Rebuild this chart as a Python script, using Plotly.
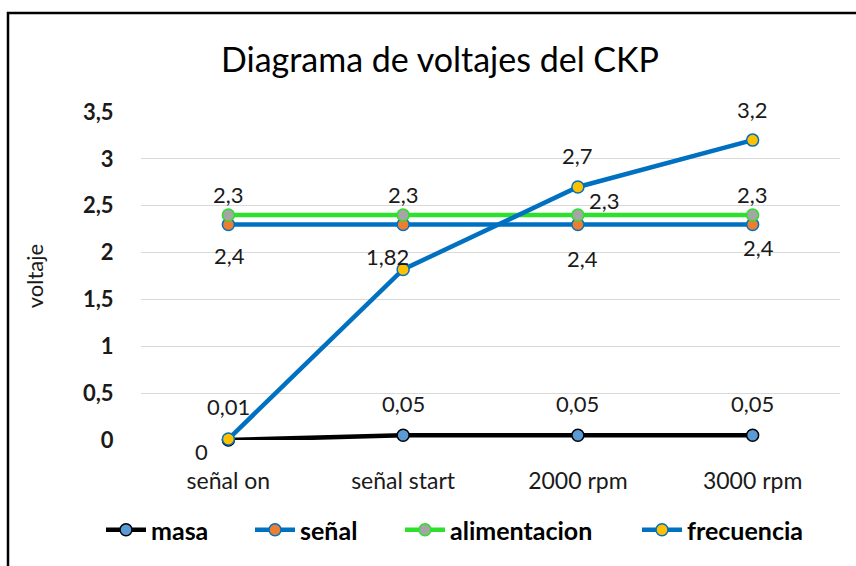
import plotly.graph_objects as go

# data
categorias = ['señal on', 'señal start', '2000 rpm', '3000 rpm']
masa = [0, 0.05, 0.05, 0.05]
senal = [2.3, 2.3, 2.3, 2.3]
alimentacion = [2.4, 2.4, 2.4, 2.4]
frecuencia = [0.01, 1.82, 2.7, 3.2]

# data labels as they appear on the chart
masa_txt = ['0', '0,05', '0,05', '0,05']
senal_txt = ['2,4', '', '2,4', '2,4']
alim_txt = ['2,3', '2,3', '2,3', '2,3']
frec_txt = ['0,01', '1,82', '2,7', '3,2']

FONT = 'Lato'
W, H = 856, 566
ML, MR, MT, MB = 141, 16, 112, 126

fig = go.Figure()

# one legend per series so each entry can sit where Excel put it
def add_serie(nombre, valores, linea, relleno, borde, leyenda):
    fig.add_trace(go.Scatter(
        x=categorias, y=valores, name=nombre, mode='lines+markers',
        line=dict(color=linea, width=4.5),
        marker=dict(size=12, color=relleno, line=dict(color=borde, width=1.5)),
        cliponaxis=False, legend=leyenda,
    ))

add_serie('masa', masa, '#000000', '#5b9bd5', '#000000', 'legend')
add_serie('señal', senal, '#0070c0', '#ed7d31', '#0070c0', 'legend2')
add_serie('alimentacion', alimentacion, '#2ce02c', '#a5a5a5', '#2ce02c', 'legend3')
add_serie('frecuencia', frecuencia, '#0070c0', '#ffc000', '#0070c0', 'legend4')

# label offsets (px) per point
def etiquetas(valores, textos, offsets):
    for cat, v, t, (dx, dy) in zip(categorias, valores, textos, offsets):
        if not t:
            continue
        fig.add_annotation(x=cat, y=v, text=t, showarrow=False,
                           xshift=dx, yshift=dy,
                           font=dict(family=FONT, size=22, color='#1a1a1a'))

etiquetas(masa, masa_txt, [(-27, -11), (0, 32), (0, 32), (0, 32)])
etiquetas(senal, senal_txt, [(1, -31), (0, 0), (5, -34), (6, -23)])
etiquetas(alimentacion, alim_txt, [(0, 21), (0, 21), (27, 15), (0, 21)])
etiquetas(frecuencia, frec_txt, [(0, 33), (-16, 13), (0, 31), (0, 31)])

# outer frame (cropped at right/bottom like the original)
pw, ph = W - ML - MR, H - MT - MB
fig.add_shape(type='rect', xref='paper', yref='paper',
              x0=(8 - ML) / pw, x1=(W + 20 - ML) / pw,
              y0=-(H + 20 - MT - ph) / ph, y1=(ph + MT - 13) / ph,
              line=dict(color='#000000', width=2.5))

def leyenda(x_texto):
    return dict(orientation='h', xref='container', x=(x_texto - 50) / W, xanchor='left',
                yref='container', y=1 - 530 / H, yanchor='middle',
                bgcolor='rgba(0,0,0,0)',
                font=dict(family=FONT, size=25, color='#000000', weight='bold'),
                itemwidth=40)

fig.update_layout(
    width=W, height=H,
    margin=dict(l=ML, r=MR, t=MT, b=MB),
    paper_bgcolor='white', plot_bgcolor='white',
    title=dict(text='Diagrama de voltajes del CKP', x=440 / W, xanchor='center',
               y=1 - 60 / H, yanchor='middle',
               font=dict(family=FONT, size=34, color='#000000')),
    font=dict(family=FONT, color='#1a1a1a'),
    showlegend=True,
    legend=leyenda(151), legend2=leyenda(300),
    legend3=leyenda(450), legend4=leyenda(687),
)
fig.update_xaxes(range=[-0.5, 3.5], showgrid=False, showline=False, zeroline=False,
                 ticks='outside', ticklen=0, ticklabelstandoff=20,
                 tickfont=dict(family=FONT, size=23, color='#1a1a1a'))
fig.update_yaxes(range=[0, 3.5], dtick=0.5, showgrid=True, gridcolor='#d9d9d9',
                 gridwidth=1.2, zeroline=False, showline=False,
                 ticks='outside', ticklen=0, ticklabelstandoff=22,
                 tickformat=',.1~f',
                 tickfont=dict(family=FONT, size=22, color='#1a1a1a', weight='bold'),
                 title=dict(text='voltaje', standoff=33,
                            font=dict(family=FONT, size=22, color='#1a1a1a')))
fig.update_layout(separators=',.')

# the page body has a default 8px margin; drop it so the figure sits at 0,0
fig.write_html('out.html', config={'displayModeBar': False},
               post_script="document.body.style.margin='0';")
